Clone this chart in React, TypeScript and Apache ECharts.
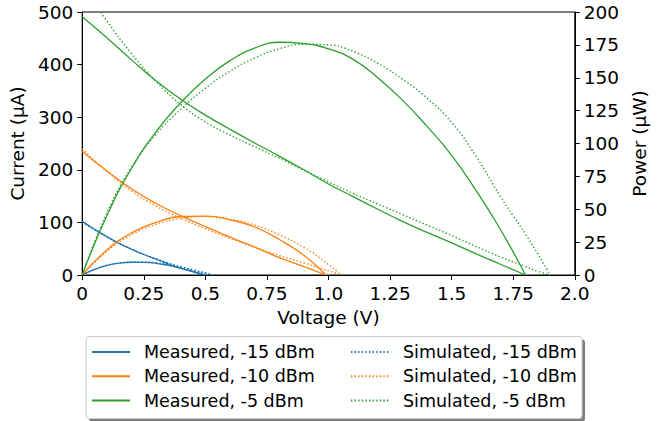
import React, { useEffect, useRef } from "react";
import * as echarts from "echarts";

// Voltage samples (V)
const vMeas15 = [0, 0.05, 0.1, 0.15, 0.2, 0.25, 0.3, 0.35, 0.4, 0.45, 0.5];
const vSim15 = [0, 0.05, 0.1, 0.15, 0.2, 0.25, 0.3, 0.35, 0.4, 0.45, 0.5, 0.53];
const vMeas10 = [0, 0.1, 0.2, 0.3, 0.4, 0.5, 0.6, 0.7, 0.8, 0.9, 0.99];
const vSim10 = [0, 0.1, 0.2, 0.3, 0.4, 0.5, 0.6, 0.7, 0.8, 0.9, 1.0, 1.05];
const vMeas5 = [0, 0.1, 0.2, 0.3, 0.4, 0.5, 0.6, 0.7, 0.8, 0.9, 1.0, 1.1, 1.2, 1.3, 1.4, 1.5, 1.6, 1.7, 1.8];
const vSim5 = [0, 0.1, 0.2, 0.3, 0.4, 0.5, 0.6, 0.7, 0.8, 0.9, 1.0, 1.1, 1.2, 1.3, 1.4, 1.5, 1.6, 1.7, 1.75, 1.8, 1.85, 1.9];

// Current (µA)
const iMeas15 = [102, 87, 73, 60, 49, 39, 30, 21, 13, 6, 0];
const iSim15 = [100, 86, 72, 60, 49, 39.5, 31, 23, 15.5, 9, 3.5, 0];
const iMeas10 = [235, 198, 164, 136, 113, 92, 72, 53, 33, 16, 0];
const iSim10 = [240, 197, 160, 131, 108, 88, 70, 53, 37, 23, 8, 0];
const iMeas5 = [491, 451, 409, 369, 334, 304, 277, 251, 226, 200, 173, 149, 125, 102, 81, 61, 40, 20, 0];
const iSim5 = [550, 483, 421, 368, 324, 291, 266, 244, 222, 199, 177, 155, 135, 115, 95, 75, 54, 34, 25, 16, 7, 0];

// Power (µW)
const pMeas15 = [0, 4.3, 7.3, 9.0, 9.7, 9.6, 8.9, 7.3, 5.2, 2.7, 0];
const pSim15 = [0, 4.3, 7.2, 9.0, 9.8, 9.9, 9.3, 8.0, 6.2, 4.0, 1.75, 0];
const pMeas10 = [0, 19, 32, 40, 44.5, 44.8, 42, 36.5, 27, 15, 0];
const pSim10 = [0, 18, 30.5, 38.5, 43, 44.5, 42.5, 38, 30.5, 21, 8, 0];
const pMeas5 = [0, 45, 81, 109, 131, 149, 163, 172.5, 177, 176, 172, 164, 150, 133, 113, 91, 64, 34, 0];
const pSim5 = [0, 47, 82, 107, 126, 142, 155, 165, 172, 175.5, 175, 170, 161, 149, 134.5, 116, 90, 59, 45, 31, 16, 0];

const xTickLabels = ["0", "0.25", "0.5", "0.75", "1.0", "1.25", "1.5", "1.75", "2.0"];
const measuredNames = ["Measured, -15 dBm", "Measured, -10 dBm", "Measured, -5 dBm"];
const simulatedNames = ["Simulated, -15 dBm", "Simulated, -10 dBm", "Simulated, -5 dBm"];
const colors = ["#1f77b4", "#ff7f0e", "#2ca02c"];

const FONT = "DejaVu Sans";

function pairs(xs: number[], ys: number[]) {
  return xs.map((x, i) => [x, ys[i]]);
}

export default function App() {
  const ref = useRef<HTMLDivElement>(null);
  useEffect(() => {
    if (!ref.current) return;
    const chart = echarts.init(ref.current, undefined, { renderer: "svg" });

    const groups = [
      { v: vMeas15, i: iMeas15, p: pMeas15, name: measuredNames[0], c: colors[0], dotted: false },
      { v: vMeas10, i: iMeas10, p: pMeas10, name: measuredNames[1], c: colors[1], dotted: false },
      { v: vMeas5, i: iMeas5, p: pMeas5, name: measuredNames[2], c: colors[2], dotted: false },
      { v: vSim15, i: iSim15, p: pSim15, name: simulatedNames[0], c: colors[0], dotted: true },
      { v: vSim10, i: iSim10, p: pSim10, name: simulatedNames[1], c: colors[1], dotted: true },
      { v: vSim5, i: iSim5, p: pSim5, name: simulatedNames[2], c: colors[2], dotted: true },
    ];

    const series: any[] = [];
    groups.forEach((g) => {
      const ls = {
        color: g.c,
        width: g.dotted ? 1.4 : 1.3,
        type: g.dotted ? [1.4, 2.2] : "solid",
      };
      [
        { axis: 0, vals: g.i },
        { axis: 1, vals: g.p },
      ].forEach((s) => {
        series.push({
          type: "line",
          name: g.name,
          yAxisIndex: s.axis,
          data: pairs(g.v, s.vals),
          smooth: 0.5,
          symbol: "none",
          showSymbol: false,
          lineStyle: ls,
          itemStyle: { color: g.c },
          clip: true,
        });
      });
    });

    const legendCommon = {
      orient: "vertical",
      top: 337,
      itemWidth: 38,
      itemHeight: 10,
      itemGap: 4.3,
      z: 20,
      itemStyle: { opacity: 0 },
      textStyle: {
        fontFamily: FONT,
        fontSize: 17.5,
        color: "#000",
        lineHeight: 20,
        padding: [0, 0, 0, 9],
      },
      selectedMode: false,
    };

    chart.setOption({
      animation: false,
      textStyle: { fontFamily: FONT },
      grid: {
        left: 80,
        right: 69,
        top: 12,
        bottom: 146,
        show: true,
        borderColor: "#000",
        borderWidth: 1,
        backgroundColor: "transparent",
      },
      xAxis: {
        type: "value",
        min: 0,
        max: 2,
        interval: 0.25,
        name: "Voltage (V)",
        nameLocation: "middle",
        nameGap: 31,
        nameTextStyle: { fontFamily: FONT, fontSize: 18.5, color: "#000" },
        axisLine: { show: true, lineStyle: { color: "#000", width: 1 } },
        axisTick: { show: true, length: 5, lineStyle: { color: "#000" } },
        axisLabel: {
          fontFamily: FONT,
          fontSize: 18.5,
          color: "#000",
          margin: 9,
          formatter: (v: number) => xTickLabels[Math.round(v / 0.25)] ?? "",
        },
        splitLine: { show: false },
      },
      yAxis: [
        {
          type: "value",
          min: 0,
          max: 500,
          interval: 100,
          position: "left",
          name: "Current (µA)",
          nameLocation: "middle",
          nameRotate: 90,
          nameGap: 48,
          nameTextStyle: { fontFamily: FONT, fontSize: 18.5, color: "#000" },
          axisLine: { show: true, lineStyle: { color: "#000", width: 1 } },
          axisTick: { show: true, length: 5, lineStyle: { color: "#000" } },
          axisLabel: { fontFamily: FONT, fontSize: 18.5, color: "#000", margin: 9 },
          splitLine: { show: false },
        },
        {
          type: "value",
          min: 0,
          max: 200,
          interval: 25,
          position: "right",
          name: "Power (µW)",
          nameLocation: "middle",
          nameRotate: 90,
          nameGap: 51,
          nameTextStyle: { fontFamily: FONT, fontSize: 18.5, color: "#000" },
          axisLine: { show: true, lineStyle: { color: "#000", width: 1 } },
          axisTick: { show: true, length: 5, lineStyle: { color: "#000" } },
          axisLabel: { fontFamily: FONT, fontSize: 18.5, color: "#000", margin: 9 },
          splitLine: { show: false },
        },
      ],
      legend: [
        { ...legendCommon, left: 86, data: measuredNames },
        { ...legendCommon, left: 345, data: simulatedNames },
      ],
      graphic: [
        {
          type: "rect",
          z: 1,
          shape: { x: 89, y: 339.5, width: 496, height: 82, r: 3 },
          style: { fill: "rgba(0,0,0,0.5)" },
        },
        {
          type: "rect",
          z: 2,
          shape: { x: 86, y: 336.5, width: 496, height: 82, r: 3 },
          style: { fill: "#fff", stroke: "#cccccc", lineWidth: 1 },
        },
      ],
      series,
    });

    return () => chart.dispose();
  }, []);

  return <div ref={ref} style={{ width: 657, height: 421, position: "absolute", left: 0, top: 0 }} />;
}
